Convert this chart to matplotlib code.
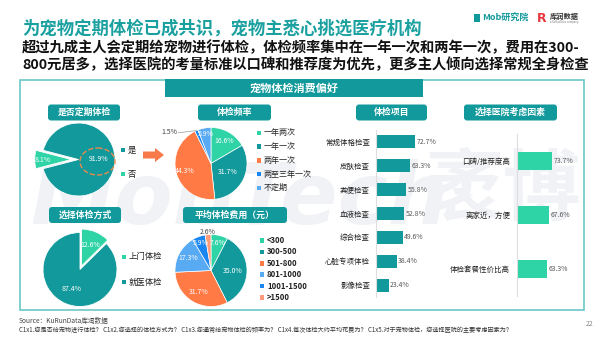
import numpy as np
import matplotlib.pyplot as plt
import matplotlib.patches as mpatches

plt.rcParams['font.family'] = ['Noto Sans CJK SC', 'DejaVu Sans']

# --- Data ---
regular_labels = ['是', '否']
regular_values = [91.9, 8.1]

freq_labels = ['一年两次', '一年一次', '两年一次', '两至三年一次', '不定期']
freq_values = [16.6, 31.7, 44.3, 1.5, 5.9]

mode_labels = ['上门体检', '就医体检']
mode_values = [12.6, 87.4]

cost_labels = ['<300', '300-500', '501-800', '801-1000', '1001-1500', '>1500']
cost_values = [7.6, 35.0, 31.7, 17.3, 5.9, 2.6]

item_labels = ['常规体格检查', '皮肤检查', '粪便检查', '血液检查', '综合检查', '心脏专项体检', '影像检查']
item_values = [72.7, 63.3, 55.8, 52.8, 49.6, 38.4, 23.4]

factor_labels = ['口碑/推荐度高', '离家近，方便', '体检套餐性价比高']
factor_values = [73.7, 67.6, 63.3]

# --- Colours ---
TEAL = '#12999B'
MINT = '#2ED3A6'
ORANGE = '#FF7A45'
LBLUE = '#58AAF2'
BLUE = '#1A86F2'
SALMON = '#FF9B7A'
TITLE_C = '#1BA0A0'
WATER = '#F0F2F6'

W, H = 600, 337
fig = plt.figure(figsize=(6, 3.37), dpi=100)

# background axes in pixel coordinates
bg = fig.add_axes([0, 0, 1, 1])
bg.set_xlim(0, W)
bg.set_ylim(H, 0)
bg.axis('off')

# --- Watermark (behind everything) ---
bg.text(30, 224, 'MobTech', fontsize=61, fontweight='bold', style='italic',
        color=WATER, family='DejaVu Sans', va='baseline', zorder=0)
bg.text(425, 214, '袤博', fontsize=56, fontweight='bold', color=WATER, va='baseline', zorder=0)

# --- Header ---
bg.text(22, 29, '为宠物定期体检已成共识，宠物主悉心挑选医疗机构', fontsize=12.5,
        fontweight='bold', color=TITLE_C, va='center')
bg.text(22, 48, '超过九成主人会定期给宠物进行体检，体检频率集中在一年一次和两年一次，费用在300-',
        fontsize=10.3, fontweight='bold', color='#111111', va='center')
bg.text(22, 65, '800元居多，选择医院的考量标准以口碑和推荐度为优先，更多主人倾向选择常规全身检查',
        fontsize=10.3, fontweight='bold', color='#111111', va='center')

# logos
bg.add_patch(mpatches.Rectangle((474, 14), 6, 8, fc=TEAL))
bg.text(482, 18, 'Mob研究院', fontsize=6.5, fontweight='bold', style='italic', color=TEAL, va='center')
bg.text(537, 18, 'R', fontsize=9, fontweight='bold', color='#E8363F', va='center', family='DejaVu Sans')
bg.text(550, 16.5, '库润数据', fontsize=5.2, fontweight='bold', color='#333333', va='center')
bg.text(550, 22.5, 'a KuRunData company', fontsize=1.8, color='#777777', va='center', family='DejaVu Sans')

# outer box and banner
bg.add_patch(mpatches.Rectangle((19.5, 79.5), 564, 230, fill=False, ec='#6CC6C6', lw=1.2, zorder=2))
bg.add_patch(mpatches.Rectangle((165, 79), 258, 18, fc=TEAL, ec='none', zorder=2))
bg.text(294, 88, '宠物体检消费偏好', fontsize=8, fontweight='bold', color='white',
        ha='center', va='center', zorder=3)


def badge(x0, x1, y0, text):
    bg.add_patch(mpatches.FancyBboxPatch((x0, y0), x1 - x0, 16,
                                         boxstyle='round,pad=0,rounding_size=3',
                                         fc=TEAL, ec='none', zorder=2))
    bg.text((x0 + x1) / 2, y0 + 8, text, fontsize=6.4, fontweight='bold', color='white',
            ha='center', va='center', zorder=3)


badge(48, 120, 104.5, '是否定期体检')
badge(198, 271, 104.5, '体检频率')
badge(356, 427, 104.5, '体检项目')
badge(464, 557, 104.5, '选择医院考虑因素')
badge(49, 121, 207, '选择体检方式')
badge(183, 287, 207, '平均体检费用（元）')


def legend(x, y0, dy, labels, colors, size, weight='medium'):
    for i, (lab, c) in enumerate(zip(labels, colors)):
        y = y0 + i * dy
        bg.add_patch(mpatches.Rectangle((x - 2.3, y - 2.3), 4.6, 4.6, fc=c, ec='none', zorder=2))
        bg.text(x + 5, y, lab, fontsize=size, fontweight=weight, color='#222222',
                va='center', zorder=3)


def pie_ax(cx, cy, r):
    ax = fig.add_axes([(cx - r) / W, 1 - (cy + r) / H, 2 * r / W, 2 * r / H])
    ax.patch.set_visible(False)
    return ax


def pct_labels(ax, wedges, values, dists, colors, size=5):
    for w, v, d, c in zip(wedges, values, dists, colors):
        ang = np.deg2rad((w.theta1 + w.theta2) / 2)
        cx, cy = w.center
        ax.text(cx + d * np.cos(ang), cy + d * np.sin(ang), f'{v:.1f}%', fontsize=size,
                color=c, ha='center', va='center')


def finish_pie(ax, wedges):
    for w in wedges:
        w.set_clip_on(False)
    ax.set_xlim(-1, 1)
    ax.set_ylim(-1, 1)
    ax.set_aspect('equal')
    ax.axis('off')


# --- Pie 1: regular check ---
ax1 = pie_ax(78.5, 159.5, 36.5)
wed1, _ = ax1.pie(regular_values, colors=[TEAL, MINT], explode=[0, 0.2],
                  startangle=180 + regular_values[1] * 3.6 / 2, counterclock=True,
                  wedgeprops=dict(edgecolor='white', linewidth=0.6))
finish_pie(ax1, wed1)
pct_labels(ax1, wed1, regular_values, [0.55, 0.77], ['white', 'white'])
legend(123, 150, 24, regular_labels, [TEAL, MINT], 6)

# arrow
bg.add_patch(mpatches.FancyArrow(143, 155, 12, 0, width=7, head_width=14, head_length=9,
                                 length_includes_head=False, fc='#F8794A', ec='none'))

# --- Pie 2: frequency ---
freq_colors = [MINT, TEAL, ORANGE, BLUE, LBLUE]
ax2 = pie_ax(211, 163.5, 36)
wed2, _ = ax2.pie(freq_values, colors=freq_colors, startangle=90, counterclock=False,
                  wedgeprops=dict(edgecolor='white', linewidth=0.5))
finish_pie(ax2, wed2)
pct_labels(ax2, [wed2[i] for i in (0, 1, 2, 4)], [freq_values[i] for i in (0, 1, 2, 4)],
           [0.72, 0.52, 0.75, 0.82], ['white'] * 4)
w = wed2[3]
ang = np.deg2rad((w.theta1 + w.theta2) / 2)
ex, ey = np.cos(ang), np.sin(ang)
ax2.plot([ex, ex - 0.5], [ey, ey - 0.06], color='#999999', lw=0.5, clip_on=False)
ax2.text(ex - 0.52, ey - 0.04, f'{freq_values[3]:.1f}%', fontsize=5, color='#444444',
         ha='right', va='center')
legend(259, 133, 13.7, freq_labels, freq_colors, 5.8)

# --- Pie 3: mode ---
ax3 = pie_ax(80, 269.5, 37)
wed3, _ = ax3.pie(mode_values, colors=[MINT, TEAL], explode=[0.1, 0], startangle=90,
                  counterclock=False, wedgeprops=dict(edgecolor='white', linewidth=0.6))
finish_pie(ax3, wed3)
pct_labels(ax3, wed3, mode_values, [0.62, 0.57], ['white', 'white'])
legend(124, 257, 25, mode_labels, [MINT, TEAL], 6)

# --- Pie 4: cost ---
cost_colors = [MINT, TEAL, ORANGE, LBLUE, BLUE, SALMON]
ax4 = pie_ax(211, 270.5, 36)
wed4, _ = ax4.pie(cost_values, colors=cost_colors, startangle=90, counterclock=False,
                  wedgeprops=dict(edgecolor='white', linewidth=0.5))
finish_pie(ax4, wed4)
pct_labels(ax4, wed4, cost_values, [0.8, 0.6, 0.68, 0.72, 0.8, 1.08],
           ['white'] * 5 + ['#444444'])
legend(262, 240.5, 11.4, cost_labels, cost_colors, 5.6, weight='bold')


# --- Bar charts ---
def bar_panel(x0, y_top, y_bot, width_px, px_per_pct, labels, values, color, bar_h, pad):
    ax = fig.add_axes([x0 / W, 1 - y_bot / H, width_px / W, (y_bot - y_top) / H])
    ax.patch.set_visible(False)
    pos = np.arange(len(values))
    ax.barh(pos, values, height=bar_h, color=color)
    ax.set_ylim(len(values) - 0.5, -0.5)
    ax.set_xlim(0, width_px / px_per_pct)
    for s in ['top', 'right', 'bottom']:
        ax.spines[s].set_visible(False)
    ax.spines['left'].set_color('#DDDDDD')
    ax.spines['left'].set_linewidth(0.8)
    ax.set_xticks([])
    ax.set_yticks(pos)
    ax.set_yticklabels(labels, fontsize=5.4, fontweight='medium', color='#222222')
    ax.tick_params(axis='y', length=0, pad=pad)
    for p, v in zip(pos, values):
        ax.text(v + 3, p, f'{v:.1f}%', fontsize=5, color='#595959', va='center')
    return ax


bar_panel(376, 130, 297, 60, 0.537, item_labels, item_values, TEAL, 0.55, 4.3)
bar_panel(517, 134, 296, 50, 0.475, factor_labels, factor_values, MINT, 0.32, 5)

# --- Overlay (dashed ellipse, footer) ---
fg = fig.add_axes([0, 0, 1, 1])
fg.set_xlim(0, W)
fg.set_ylim(H, 0)
fg.axis('off')
fg.patch.set_visible(False)
fg.add_patch(mpatches.Ellipse((97.5, 161.5), 35, 27, fill=False, ls='--', ec='#E8894E', lw=1))

fg.text(19, 321, 'Source：KuRunData库润数据', fontsize=4.8, color='#444444', va='center')
fg.text(19, 330.5, 'C1x1.您是否给宠物进行体检？ C1x2.您选择的体检方式为？ C1x3.您通常给宠物体检的频率为？ '
        'C1x4.每次体检大约平均花费为？ C1x5.对于宠物体检，您选择医院的主要考虑因素为？',
        fontsize=4.4, style='italic', color='#333333', va='center')
fg.text(590, 324, '22', fontsize=5, color='#888888', ha='center', va='center')

fig.savefig('out.png', dpi=100)
